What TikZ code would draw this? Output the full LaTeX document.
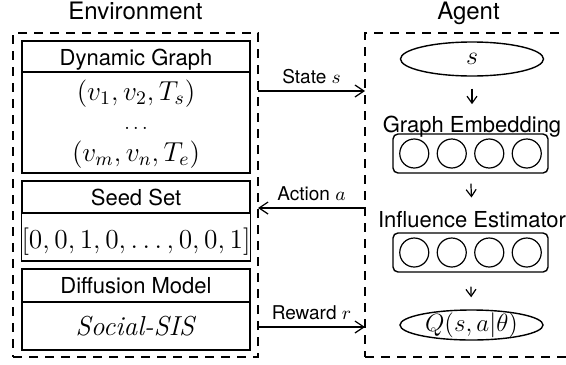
\RequirePackage{fix-cm}
\documentclass[tikz,border=0pt]{standalone}
\usepackage{fontspec}
\newfontfamily\heros{TeX Gyre Heros}
\usetikzlibrary{shapes.geometric,calc,arrows.meta}
\begin{document}
\begin{tikzpicture}[x=0.5pt,y=-0.5pt,
  dashbox/.style={draw, line width=1.4pt, dash pattern=on 4.5pt off 3.5pt, inner sep=0, outer sep=0, minimum height=162pt},
  envbox/.style={draw, line width=0.8pt, inner sep=0, minimum width=114pt},
  hdr/.style={envbox, font=\heros\fontsize{11}{13}\selectfont, text height=12pt},
  mathtxt/.style={inner sep=0, font=\fontsize{13.7}{16}\selectfont},
  title/.style={anchor=base, inner sep=0, font=\heros\fontsize{12}{14}\selectfont},
  sub/.style={anchor=base, inner sep=0, font=\heros\fontsize{11}{13}\selectfont},
  layer/.style={draw, line width=0.7pt, rounded corners=2.5pt, inner sep=0, minimum width=77.5pt, minimum height=19.5pt},
  neuron/.style={circle, draw, line width=0.6pt, inner sep=0, minimum size=14.5pt},
  oval/.style={ellipse, draw, line width=0.7pt, inner sep=0},
  arr/.style={-{Straight Barb[length=4.5pt,width=6pt]}, line width=0.6pt},
  varr/.style={-{Straight Barb[length=3.5pt,width=5pt]}, line width=0.6pt},
  lab/.style={above=3.5pt, inner sep=0, font=\heros\fontsize{9.5}{11}\selectfont}
]
\useasboundingbox (0,0) rectangle (566,364);

% outer dashed frames
\node[dashbox, minimum width=122.5pt] (env) at (135.5,195) {};
\node[dashbox, minimum width=103.5pt] (agent) at (468.5,195) {};
\node[title] (envt) at ([yshift=7pt]env.north) {Environment};
\node[title] (agt) at ([yshift=7pt]agent.north) {Agent};

% environment boxes
\node[hdr, minimum height=15.5pt, text depth=3.5pt] (dgh) at (136,56.5) {Dynamic Graph};
\node[envbox, minimum height=50.5pt] (dgb) at (136,122.5) {};
\node[mathtxt, anchor=base] (e1) at (136,100) {$(v_1, v_2, T_s)$};
\node[inner sep=0, anchor=base, font=\fontsize{10}{12}\selectfont] (ed) at (136,129) {$\dots$};
\node[mathtxt, anchor=base] (e2) at (136,161) {$(v_m, v_n, T_e)$};

\node[hdr, minimum height=16pt, text depth=4pt] (ssh) at (136,197) {Seed Set};
\node[envbox, mathtxt, minimum height=24pt, text height=17.5pt, text depth=6.5pt] (ssb) at (136,237) {$[0,0,1,0,\ldots,0,0,1]$};

\node[hdr, minimum height=16.5pt, text depth=4.5pt] (dmh) at (136,285.5) {Diffusion Model};
\node[envbox, mathtxt, minimum height=24pt, text height=16.5pt, text depth=7.5pt] (dmb) at (136,326) {\textit{Social-SIS}};

% agent
\node[oval, minimum width=71.5pt, minimum height=17pt, font=\fontsize{13}{15}\selectfont] (s) at (472,59) {$s$};
\node[sub] (ge) at (472,132) {Graph Embedding};
\node[layer] (l1) at (470.5,153.5) {};
\foreach \i/\dx in {1/-56.25,2/-18.75,3/18.75,4/56.25}
  \node[neuron] (a\i) at ($(l1)+(\dx,0)$) {};
\node[sub] (ie) at (472,227) {Influence Estimator};
\node[layer] (l2) at (470.5,252.5) {};
\foreach \i/\dx in {1/-56.25,2/-18.75,3/18.75,4/56.25}
  \node[neuron] (b\i) at ($(l2)+(\dx,0)$) {};
\node[oval, minimum width=71.5pt, minimum height=15pt, label={[inner sep=0, font=\fontsize{12.5}{15}\selectfont]center:$Q(s,a|\theta)$}] (q) at (471.5,325) {};

\draw[varr, shorten <=6pt, shorten >=5.5pt] (s.south) -- (ge.north);
\draw[varr, shorten <=5pt, shorten >=6.5pt] (l1.south) -- (ie.north);
\draw[varr, shorten <=7pt, shorten >=6pt] (l2.south) -- (q.north);

% interaction arrows
\draw[arr] ([yshift=52pt]env.east) -- node[lab] {State $s$} ([yshift=52pt]agent.west);
\draw[arr] ([yshift=-6.5pt]agent.west) -- node[lab] {Action $a$} ([yshift=-6.5pt]env.east);
\draw[arr] ([yshift=-66pt]env.east) -- node[lab] {Reward $r$} ([yshift=-66pt]agent.west);
\end{tikzpicture}
\end{document}
